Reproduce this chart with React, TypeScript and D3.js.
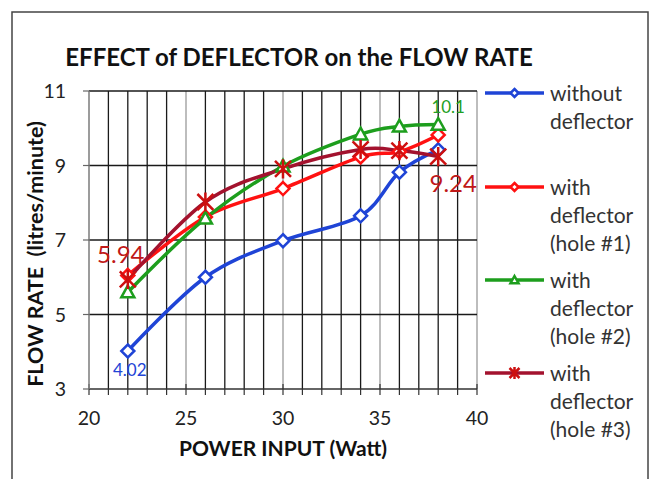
import React from "react";
import * as d3 from "d3";

// data
const powerInput = [22, 26, 30, 34, 36, 38];
const withoutDeflector = [4.02, 6.0, 6.98, 7.65, 8.82, 9.42];
const hole1 = [6.05, 7.62, 8.38, 9.23, 9.37, 9.82];
const hole2 = [5.6, 7.58, 8.98, 9.84, 10.05, 10.1];
const hole3 = [5.94, 8.02, 8.91, 9.43, 9.4, 9.24];

const xTicks = [20, 25, 30, 35, 40];
const yTicks = [3, 5, 7, 9, 11];

const seriesNames = [
  ["without", "deflector"],
  ["with", "deflector", "(hole #1)"],
  ["with", "deflector", "(hole #2)"],
  ["with", "deflector", "(hole #3)"],
];

const FONT = "Lato, 'Open Sans', sans-serif";

const W = 654;
const H = 479;
const plot = { left: 89, right: 477, top: 91, bottom: 389 };

const x = d3.scaleLinear().domain([20, 40]).range([plot.left, plot.right]);
const y = d3.scaleLinear().domain([3, 11]).range([plot.bottom, plot.top]);

const line = d3
  .line<number>()
  .x((_, i) => x(powerInput[i]))
  .y((d) => y(d))
  .curve(d3.curveCardinal.tension(0));

const series = [
  { values: withoutDeflector, color: "#1f44d6", marker: "diamond", mcolor: "#1f44d6" },
  { values: hole1, color: "#ff1111", marker: "diamond", mcolor: "#ff1111" },
  { values: hole2, color: "#1d9e1d", marker: "triangle", mcolor: "#1d9e1d" },
  { values: hole3, color: "#a3122e", marker: "star", mcolor: "#cc1010" },
];

function Marker({ type, cx, cy, color, s }) {
  if (type === "diamond") {
    return (
      <path
        d={`M${cx},${cy - s}L${cx + s},${cy}L${cx},${cy + s}L${cx - s},${cy}Z`}
        fill="#fff"
        stroke={color}
        strokeWidth={2.5}
      />
    );
  }
  if (type === "triangle") {
    return (
      <path
        d={`M${cx},${cy - s}L${cx + s},${cy + s * 0.8}L${cx - s},${cy + s * 0.8}Z`}
        fill="#fff"
        stroke={color}
        strokeWidth={2.5}
      />
    );
  }
  // star: X plus vertical bar
  return (
    <path
      d={`M${cx - s},${cy - s}L${cx + s},${cy + s}M${cx - s},${cy + s}L${cx + s},${cy - s}M${cx},${cy - s * 1.2}L${cx},${cy + s * 1.2}`}
      fill="none"
      stroke={color}
      strokeWidth={2.5}
    />
  );
}

export default function App() {
  const minor = d3.range(20, 41, 1);
  const legendY = [93, 187, 280, 373];

  return (
    <svg
      width={W}
      height={H}
      style={{ position: "absolute", left: 0, top: 0, background: "#fff" }}
      fontFamily={FONT}
    >
      <rect x={12} y={12} width={636} height={480} fill="#fff" stroke="#444" strokeWidth={1.5} />

      <text x={299} y={66} textAnchor="middle" fontSize={24} fontWeight="bold" fill="#111">
        EFFECT of DEFLECTOR on the FLOW RATE
      </text>

      {/* vertical grid */}
      {minor.map((v) => (
        <line
          key={"vx" + v}
          x1={x(v)}
          x2={x(v)}
          y1={plot.top}
          y2={plot.bottom}
          stroke={v % 5 === 0 ? "#9a9a9a" : "#1a1a1a"}
          strokeWidth={1.3}
        />
      ))}
      {/* horizontal grid */}
      {yTicks.slice(1).map((v) => (
        <line key={"hy" + v} x1={plot.left} x2={plot.right} y1={y(v)} y2={y(v)} stroke="#1a1a1a" strokeWidth={1.3} />
      ))}

      {/* x axis */}
      <line x1={plot.left} x2={plot.right} y1={plot.bottom} y2={plot.bottom} stroke="#333" strokeWidth={1.3} />
      {minor.map((v) => (
        <line
          key={"tx" + v}
          x1={x(v)}
          x2={x(v)}
          y1={v % 5 === 0 ? plot.bottom - 5 : plot.bottom}
          y2={plot.bottom + 6}
          stroke="#333"
          strokeWidth={1.2}
        />
      ))}
      {xTicks.map((v) => (
        <text key={"xl" + v} x={x(v)} y={425} textAnchor="middle" fontSize={19.5} fill="#222">
          {v}
        </text>
      ))}
      <text x={283} y={456} textAnchor="middle" fontSize={21} fontWeight="bold" fill="#111">
        POWER INPUT (Watt)
      </text>

      {/* y axis */}
      <line x1={plot.left} x2={plot.left} y1={plot.top} y2={plot.bottom} stroke="#8a8a8a" strokeWidth={1.3} />
      {yTicks.map((v) => (
        <g key={"yt" + v}>
          <line x1={plot.left - 6} x2={plot.left} y1={y(v)} y2={y(v)} stroke="#666" strokeWidth={1.2} />
          <text x={66} y={y(v) + 7} textAnchor="end" fontSize={19.5} fill="#222">
            {v}
          </text>
        </g>
      ))}
      <text
        transform={`translate(43,254) rotate(-90)`}
        textAnchor="middle"
        fontSize={21.5}
        fontWeight="bold"
        fill="#111"
        style={{ whiteSpace: "pre" }}
      >
        {"FLOW RATE  (litres/minute)"}
      </text>

      {/* series */}
      {series.map((s, k) => (
        <path key={"l" + k} d={line(s.values) ?? ""} fill="none" stroke={s.color} strokeWidth={3.5} />
      ))}
      {series.map((s, k) =>
        s.values.map((v, i) => (
          <Marker
            key={"m" + k + "-" + i}
            type={s.marker}
            cx={x(powerInput[i])}
            cy={y(v)}
            color={s.mcolor}
            s={s.marker === "star" ? 8 : 6.5}
          />
        ))
      )}

      {/* data labels */}
      <text x={x(22) - 7} y={y(hole3[0]) - 16} textAnchor="middle" fontSize={24} fill="#c01818">
        {hole3[0].toFixed(2)}
      </text>
      <text x={x(38) + 15} y={y(hole3[5]) + 35} textAnchor="middle" fontSize={24} fill="#c01818">
        {hole3[5].toFixed(2)}
      </text>
      <text x={x(38) + 10} y={y(hole2[5]) - 12} textAnchor="middle" fontSize={17} fill="#22a022">
        {hole2[5].toFixed(1)}
      </text>
      <text x={x(22) + 2} y={y(withoutDeflector[0]) + 25} textAnchor="middle" fontSize={17} fill="#2244d6">
        {withoutDeflector[0].toFixed(2)}
      </text>

      {/* legend */}
      {series.map((s, k) => (
        <g key={"lg" + k}>
          <line x1={485} x2={544} y1={legendY[k]} y2={legendY[k]} stroke={s.color} strokeWidth={3.5} />
          <Marker type={s.marker} cx={514.5} cy={legendY[k]} color={s.mcolor} s={s.marker === "star" ? 5 : 4} />
          {seriesNames[k].map((t, j) => (
            <text key={j} x={550} y={legendY[k] + 8 + j * 28} fontSize={21} fill="#333">
              {t}
            </text>
          ))}
        </g>
      ))}
    </svg>
  );
}
